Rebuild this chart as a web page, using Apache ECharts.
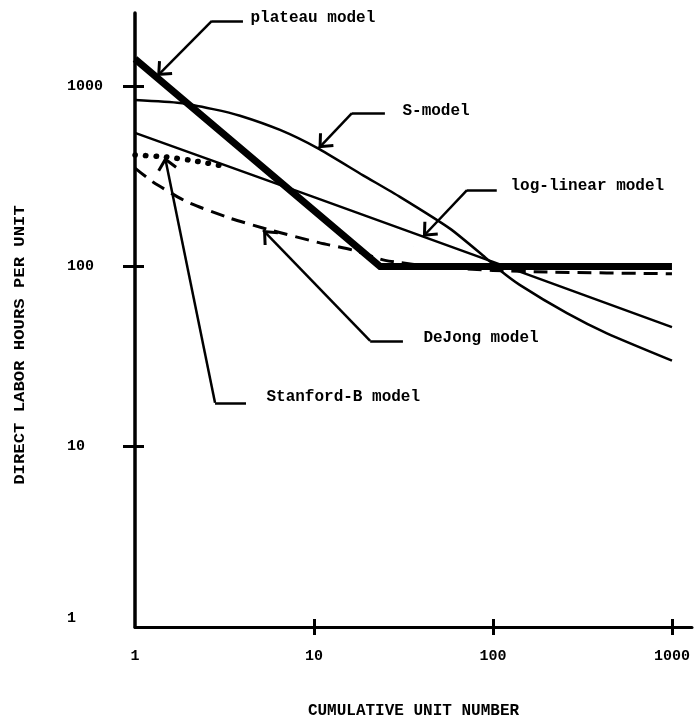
<!DOCTYPE html>
<html><head><meta charset="utf-8">
<script src="https://cdn.jsdelivr.net/npm/echarts@6/dist/echarts.min.js"></script>
<style>html,body{margin:0;padding:0;background:#fff}#c{width:696px;height:716px}</style>
</head><body><div id="c"></div>
<script>
// ---- data ----
const xTickValues = [10, 100, 1000];
const xLabelValues = [1, 10, 100, 1000];
const yTickValues = [10, 100, 1000];
const yLabelValues = [1, 10, 100, 1000];

const plateauX = [1, 23.4, 1000];
const plateauY = [1413, 100, 100];

const sModelX = [1, 1.785, 2.73, 3.86, 6.46, 10.4, 18.8, 30.2, 57.5, 87.9, 109, 141, 259, 433, 1000];
const sModelY = [837, 806, 745, 685, 571, 454, 320, 243, 162, 115, 95.5, 79, 55, 42.5, 30];

const logLinearX = [1, 10, 100, 1000];
const logLinearY = [550, 242, 106, 46];

const stanfordX = [1, 1.5, 2, 2.5, 3.2];
const stanfordY = [415, 404, 389, 375, 358];

const deJongX = [1, 1.26, 1.95, 3.4, 5.7, 10.8, 16.5, 25, 50, 100, 200, 1000];
const deJongY = [351, 294, 228, 185, 159, 135, 123, 108, 99, 95, 93, 91];

// annotations (data coordinates)
const noteText   = ['plateau model', 'S-model', 'log-linear model', 'DeJong model', 'Stanford-B model'];
const noteLabelX = [4.39, 31.0, 124.5, 40.6, 5.39];
const noteLabelY = [2387, 728, 279, 40.1, 18.9];
const noteElbowX = [2.69, 16.3, 71.6, 20.6, 2.80];
const noteEndX   = [4.01, 24.9, 105, 31.4, 4.17];
const noteElbowY = [2297, 709, 265, 38.6, 17.5];
const noteTipX   = [1.33, 10.6, 40.6, 5.19, 1.47];
const noteTipY   = [1137, 452, 146, 159, 404];

// ---- chart ----
const FONT = 'Liberation Mono';
const ARROW = 'path://M8,12 L16,21 L14.2,22.6 L8,15.6 L1.8,22.6 L0,21 Z M8,1.4 L8.05,1.4 L8,1.45 Z';
const ARROW_SIZE = [20, 26.5];
const pairs = (xs, ys) => xs.map((x, i) => [x, ys[i]]);
const numFmt = v => String(Math.round(v));

const chart = echarts.init(document.getElementById('c'), null, {renderer: 'canvas'});

const baseLine = {type: 'line', showSymbol: false, symbol: 'none', silent: true, animation: false, z: 3};

const option = {
  backgroundColor: '#ffffff',
  animation: false,
  grid: {left: 135, right: 4, top: 13, bottom: 89, containLabel: false, outerBoundsMode: 'none'},
  xAxis: [{
    type: 'log', logBase: 10, min: 1, max: 1294,
    axisLine: {show: true, lineStyle: {color: '#000', width: 3}},
    axisTick: {show: true, inside: false, length: 8, lineStyle: {color: '#000', width: 3}, customValues: xTickValues},
    axisLabel: {show: true, margin: 22, color: '#000', fontFamily: FONT, fontWeight: 'bold', fontSize: 15,
      customValues: xLabelValues, formatter: numFmt},
    splitLine: {show: false}, minorTick: {show: false},
    name: 'CUMULATIVE UNIT NUMBER', nameLocation: 'middle', nameGap: 76,
    nameTextStyle: {color: '#000', fontFamily: FONT, fontWeight: 'bold', fontSize: 16}
  }, {
    type: 'log', logBase: 10, min: 1, max: 1294, position: 'bottom', offset: 0,
    axisLine: {show: false},
    axisTick: {show: true, inside: true, length: 8, lineStyle: {color: '#000', width: 3}, customValues: xTickValues},
    axisLabel: {show: false}, splitLine: {show: false}
  }],
  yAxis: [{
    type: 'log', logBase: 10, min: 1, max: 2543,
    axisLine: {show: true, lineStyle: {color: '#000', width: 3.5}},
    axisTick: {show: true, inside: false, length: 12, lineStyle: {color: '#000', width: 3}, customValues: yTickValues},
    axisLabel: {show: true, margin: 68, align: 'left', color: '#000', fontFamily: FONT, fontWeight: 'bold', fontSize: 15,
      customValues: yLabelValues,
      formatter: v => (Math.round(v) === 1 ? '{r|1}' : numFmt(v)),
      rich: {r: {padding: [0, 0, 17, 0], fontFamily: FONT, fontWeight: 'bold', fontSize: 15, color: '#000'}}},
    splitLine: {show: false}, minorTick: {show: false}
  }, {
    type: 'log', logBase: 10, min: 1, max: 2543, position: 'left', offset: 0,
    axisLine: {show: false},
    axisTick: {show: true, inside: true, length: 9, lineStyle: {color: '#000', width: 3}, customValues: yTickValues},
    axisLabel: {show: false}, splitLine: {show: false}
  }],
  graphic: [{
    type: 'text', x: 20, y: 345, rotation: Math.PI / 2, scaleX: 1.15,
    style: {text: 'DIRECT LABOR HOURS PER UNIT', font: 'bold 15px "Liberation Mono"', fill: '#000', align: 'center', verticalAlign: 'middle'}
  }],
  series: [
    Object.assign({}, baseLine, {name: 'DeJong model', data: pairs(deJongX, deJongY), smooth: 0.2,
      lineStyle: {color: '#000', width: 3, type: [14, 8]}}),
    Object.assign({}, baseLine, {name: 'Stanford-B model', data: pairs(stanfordX, stanfordY), smooth: 0.2,
      lineStyle: {color: '#000', width: 5.5, type: [0.5, 10], cap: 'round'}}),
    Object.assign({}, baseLine, {name: 'log-linear model', data: pairs(logLinearX, logLinearY),
      lineStyle: {color: '#000', width: 2.5}}),
    Object.assign({}, baseLine, {name: 'S-model', data: pairs(sModelX, sModelY), smooth: 0.2,
      lineStyle: {color: '#000', width: 2.5}}),
    Object.assign({}, baseLine, {name: 'plateau model', data: pairs(plateauX, plateauY),
      lineStyle: {color: '#000', width: 7, join: 'miter'}}),
    Object.assign({}, baseLine, {name: 'notes', data: [],
      markLine: {
        silent: true, animation: false, symbol: ['none', 'none'], symbolSize: ARROW_SIZE,
        label: {show: false},
        lineStyle: {color: '#000', width: 2.5, type: 'solid'},
        emphasis: {disabled: true},
        data: noteText.flatMap((t, i) => [
          [{coord: [noteElbowX[i], noteElbowY[i]], symbol: 'none'},
           {coord: [noteEndX[i], noteElbowY[i]], symbol: 'none'}],
          [{coord: [noteElbowX[i], noteElbowY[i]], symbol: 'none'},
           {coord: [noteTipX[i], noteTipY[i]], symbol: ARROW, symbolSize: ARROW_SIZE}]
        ])
      },
      markPoint: {
        silent: true, animation: false, symbol: 'circle', symbolSize: 1,
        itemStyle: {color: 'rgba(0,0,0,0)'},
        label: {show: true, position: 'right', distance: 0, color: '#000', fontFamily: FONT, fontWeight: 'bold', fontSize: 16,
          formatter: p => p.name},
        data: noteText.map((t, i) => ({name: t, coord: [noteLabelX[i], noteLabelY[i]]}))
      }
    })
  ]
};
chart.setOption(option);
</script>
</body></html>
